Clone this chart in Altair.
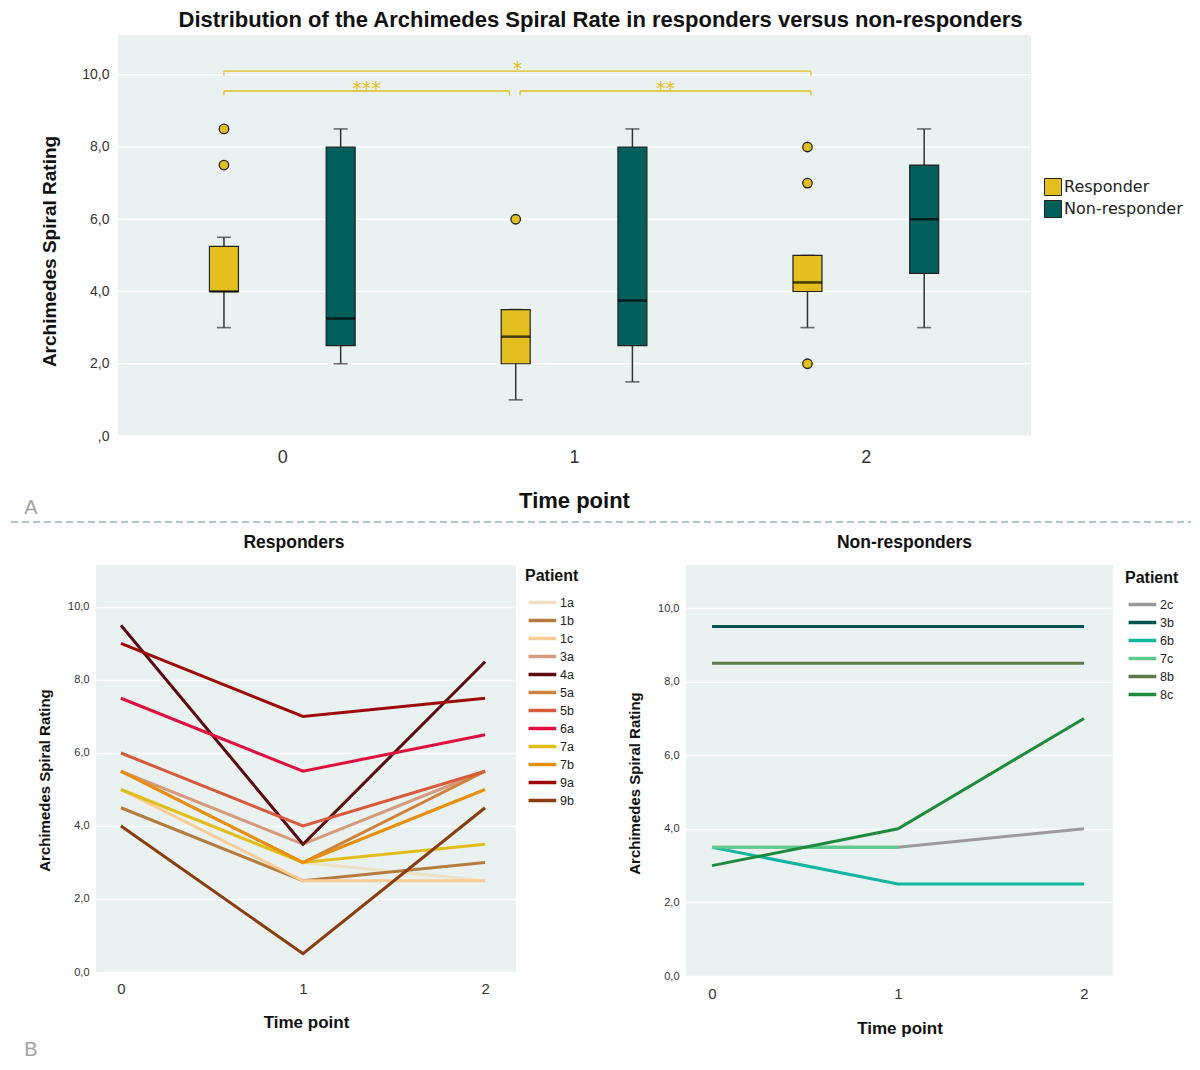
import altair as alt
import pandas as pd

FONT = "Liberation Sans"
YELLOW = "#E2BE1E"
TEAL = "#005E5B"
BG = "#EAF1F1"
INK = "#222222"

# ---------------- Panel A: box plot summary values ----------------
time_points = [0, 1, 2]
group_names = ["Responder", "Non-responder"]

resp_low = [3.0, 1.0, 3.0]
resp_q1 = [4.0, 2.0, 4.0]
resp_med = [4.0, 2.75, 4.25]
resp_q3 = [5.25, 3.5, 5.0]
resp_high = [5.5, 3.5, 5.0]
resp_outliers = [[7.5, 8.5], [6.0], [2.0, 7.0, 8.0]]

non_low = [2.0, 1.5, 3.0]
non_q1 = [2.5, 2.5, 4.5]
non_med = [3.25, 3.75, 6.0]
non_q3 = [8.0, 8.0, 7.5]
non_high = [8.5, 8.5, 8.5]

# significance brackets (between responder boxes)
sig_labels = ["*", "***", "**"]
sig_from = [0, 0, 1]
sig_to = [2, 1, 2]
sig_level = [10.1, 9.55, 9.55]

y_ticks = [0, 2, 4, 6, 8, 10]

# ---------------- Panel B: individual patients ----------------
resp_patients = ["1a", "1b", "1c", "3a", "4a", "5a", "5b", "6a", "7a", "7b", "9a", "9b"]
resp_colors = ["#EEE2C6", "#B57C3E", "#F9CB95", "#D69A7C", "#5A0A10", "#D08038",
               "#D85A3C", "#E0103E", "#E2BE1A", "#E8900E", "#9E0A0C", "#8A3C0C"]
resp_t0 = [5.0, 4.5, 5.0, 5.5, 9.5, 5.5, 6.0, 7.5, 5.0, 5.5, 9.0, 4.0]
resp_t1 = [3.0, 2.5, 2.5, 3.5, 3.5, 3.0, 4.0, 5.5, 3.0, 3.0, 7.0, 0.5]
resp_t2 = [2.5, 3.0, 2.5, 5.5, 8.5, 5.5, 5.5, 6.5, 3.5, 5.0, 7.5, 4.5]

non_patients = ["2c", "3b", "6b", "7c", "8b", "8c"]
non_colors = ["#9A9A9A", "#00534F", "#12B5A0", "#5CCB8C", "#5E7A4C", "#1E8A3C"]
non_t0 = [3.5, 9.5, 3.5, 3.5, 8.5, 3.0]
non_t1 = [3.5, 9.5, 2.5, 3.5, 8.5, 4.0]
non_t2 = [4.0, 9.5, 2.5, None, 8.5, 7.0]

# ---------------- build tables ----------------
offset = {"Responder": -0.2, "Non-responder": 0.2}
rows = []
for g, lo, q1, md, q3, hi in [
    ("Responder", resp_low, resp_q1, resp_med, resp_q3, resp_high),
    ("Non-responder", non_low, non_q1, non_med, non_q3, non_high),
]:
    for i, t in enumerate(time_points):
        rows.append(dict(group=g, time=t, pos=t + offset[g], low=lo[i], q1=q1[i],
                         med=md[i], q3=q3[i], high=hi[i]))
box_df = pd.DataFrame(rows)

out_rows = []
for i, t in enumerate(time_points):
    for v in resp_outliers[i]:
        out_rows.append(dict(pos=t + offset["Responder"], value=v))
out_df = pd.DataFrame(out_rows)

br_rows = []
for lab, a, b, lev in zip(sig_labels, sig_from, sig_to, sig_level):
    x1 = a + offset["Responder"] + (0.015 if lab == "**" else 0.0)
    x2 = b + offset["Responder"] + (-0.022 if lab == "***" else 0.012)
    br_rows.append(dict(label=lab, x1=x1, x2=x2, xm=(x1 + x2) / 2, level=lev, drop=lev - 0.12))
br_df = pd.DataFrame(br_rows)
br_ends = pd.concat([
    br_df[["x1", "level", "drop"]].rename(columns={"x1": "x"}),
    br_df[["x2", "level", "drop"]].rename(columns={"x2": "x"}),
])

grid_df = pd.DataFrame({"v": y_ticks})

def long_table(patients, t0, t1, t2):
    r = []
    for k, p in enumerate(patients):
        for t, vals in zip(time_points, (t0, t1, t2)):
            if vals[k] is not None:
                r.append(dict(patient=p, time=t, value=vals[k], order=k))
    return pd.DataFrame(r)

resp_df = long_table(resp_patients, resp_t0, resp_t1, resp_t2)
non_df = long_table(non_patients, non_t0, non_t1, non_t2)

one = pd.DataFrame({"k": [0]})

# ---------------- Panel A chart ----------------
# the group spans 22px left of the shaded plot area so that it lines up with panel B
SHIFT = 22
W_A, H_A = 913 + SHIFT, 401
xscaleA = alt.Scale(domain=[-0.546, 2.549], range=[SHIFT, W_A], nice=False, zero=False)
yscaleA = alt.Scale(domain=[0, 11.1], nice=False, zero=False)
xaxisA = alt.Axis(values=[0, 1, 2], format="d", title="Time point", grid=False, ticks=False,
                  domain=False, labelFontSize=18, labelPadding=12, labelColor="#333",
                  titleFontSize=22, titleFontWeight="bold", titleY=64, titleX=478,
                  titleAlign="center", titleBaseline="middle", titleColor="#111")
yaxisA = alt.Axis(values=y_ticks, title="Archimedes Spiral Rating",
                  labelExpr="datum.value == 0 ? ',0' : replace(format(datum.value, '.1f'), '.', ',')",
                  ticks=False, domain=False, labelFontSize=14, labelPadding=9, labelColor="#333",
                  titleFontSize=19, titleFontWeight="bold", titleX=-69, titleY=216,
                  titleBaseline="middle", titleAlign="center", titleColor="#111",
                  grid=False, offset=-SHIFT)

def XA(f):
    return alt.X(f, type="quantitative", scale=xscaleA, axis=xaxisA)

def YA(f):
    return alt.Y(f, type="quantitative", scale=yscaleA, axis=yaxisA)

background = alt.Chart(one).mark_rect(color=BG).encode(
    x=alt.value(SHIFT), x2=alt.value(W_A), y=alt.value(0), y2=alt.value(H_A))
gridlines = alt.Chart(grid_df).mark_rule(color="white", strokeWidth=1.5).encode(
    x=alt.value(SHIFT), x2=alt.value(W_A), y=YA("v"))

base_box = alt.Chart(box_df)
whisk_lo = base_box.mark_rule(color="#333", strokeWidth=1.5).encode(x=XA("pos"), y=YA("low"), y2="q1")
whisk_hi = base_box.mark_rule(color="#333", strokeWidth=1.5).encode(x=XA("pos"), y=YA("q3"), y2="high")
cap_lo = base_box.mark_tick(orient="horizontal", size=14, thickness=1.6, color="#333").encode(x=XA("pos"), y=YA("low"))
cap_hi = base_box.mark_tick(orient="horizontal", size=14, thickness=1.6, color="#333").encode(x=XA("pos"), y=YA("high"))
boxes = base_box.mark_bar(size=29, stroke=INK, strokeWidth=1.2).encode(
    x=XA("pos"), y=YA("q1"), y2="q3",
    color=alt.Color("group:N", scale=alt.Scale(domain=group_names, range=[YELLOW, TEAL]),
                    legend=alt.Legend(title=None, orient="none", legendX=926 + SHIFT, legendY=143,
                                      symbolType="square", symbolSize=289, symbolStrokeColor=INK,
                                      symbolStrokeWidth=1, symbolOpacity=1, labelFontSize=16,
                                      labelFont="DejaVu Sans",
                                      labelColor="#222", rowPadding=0, labelOffset=2)),
)
medians = base_box.mark_tick(orient="horizontal", size=29, thickness=2.5, color="#000").encode(
    x=XA("pos"), y=YA("med"))
outliers = alt.Chart(out_df).mark_circle(size=90, color=YELLOW, stroke=INK, strokeWidth=1.3, opacity=1).encode(
    x=XA("pos"), y=YA("value"))

br_lines = alt.Chart(br_df).mark_rule(color=YELLOW, strokeWidth=1.3).encode(
    x=XA("x1"), x2="x2", y=YA("level"))
br_ticks = alt.Chart(br_ends).mark_rule(color=YELLOW, strokeWidth=1.3).encode(
    x=XA("x"), y=YA("level"), y2="drop")
br_text = alt.Chart(br_df).mark_text(color=YELLOW, fontSize=19, font="DejaVu Sans",
                                     baseline="alphabetic", dy=4).encode(
    x=XA("xm"), y=YA("level"), text="label:N")

separator = alt.Chart(one).mark_rule(color="#5E8E8C", strokeWidth=1.2, strokeDash=[7, 4]).encode(
    x=alt.value(-85), x2=alt.value(1095), y=alt.value(487))
label_a = alt.Chart(one).mark_text(text="A", fontSize=20, color="#A3A3A3", font=FONT).encode(
    x=alt.value(-65), y=alt.value(473))

top = alt.layer(
    background, gridlines, whisk_lo, whisk_hi, cap_lo, cap_hi, boxes, medians, outliers,
    br_lines, br_ticks, br_text, separator, label_a,
).properties(
    width=W_A, height=H_A,
    view=alt.ViewBackground(fill="white", strokeWidth=0),
    title=alt.TitleParams("Distribution of the Archimedes Spiral Rate in responders versus non-responders",
                          fontSize=22, fontWeight="bold", anchor="middle", dx=37, offset=3, color="#111"),
)

# ---------------- Panel B charts ----------------
def line_panel(df, patients, colors, title, width, height, xdom, ytop, legx, legy, ytitle_y,
               lab_pad, xt_y, title_dx, extra_layers):
    xs = alt.Scale(domain=xdom, nice=False, zero=False)
    ys = alt.Scale(domain=[0, ytop], nice=False, zero=False)
    xax = alt.Axis(values=[0, 1, 2], format="d", title="Time point", grid=False, ticks=False,
                   domain=False, labelFontSize=15, labelPadding=lab_pad, labelColor="#333",
                   titleFontSize=17, titleFontWeight="bold", titleY=xt_y, titleBaseline="middle",
                   titleColor="#111")
    yax = alt.Axis(values=y_ticks, title="Archimedes Spiral Rating",
                   labelExpr="replace(format(datum.value, '.1f'), '.', ',')",
                   ticks=False, domain=False, labelFontSize=11, labelPadding=7, labelColor="#333",
                   titleFontSize=15, titleFontWeight="bold", titleX=-52, titleY=ytitle_y,
                   titleBaseline="middle", titleAlign="center", titleColor="#111",
                   grid=True, gridColor="white", gridWidth=1.5)
    lines = alt.Chart(df).mark_line(strokeWidth=3).encode(
        x=alt.X("time:Q", scale=xs, axis=xax),
        y=alt.Y("value:Q", scale=ys, axis=yax),
        color=alt.Color("patient:N", scale=alt.Scale(domain=patients, range=colors),
                        sort=patients,
                        legend=alt.Legend(title="Patient", orient="none", legendX=legx, legendY=legy,
                                          titleFontSize=16, titleFontWeight="bold", titleColor="#111",
                                          titlePadding=8, labelFontSize=12.5, labelColor="#222",
                                          symbolType="M-0.8,0L2.4,0", symbolSize=300,
                                          symbolStrokeWidth=3.5, rowPadding=0, labelOffset=14)),
        order=alt.Order("order:Q"),
    )
    return alt.layer(lines, *extra_layers).properties(
        width=width, height=height,
        view=alt.ViewBackground(fill=BG, strokeWidth=0),
        title=alt.TitleParams(title, fontSize=17.5, fontWeight="bold", anchor="middle", dx=title_dx,
                              offset=14, color="#111"),
    )

left_bound = alt.Chart(one).mark_rule(strokeOpacity=0, strokeWidth=1).encode(
    x=alt.value(-85), x2=alt.value(-80), y=alt.value(200))
label_b = alt.Chart(one).mark_text(text="B", fontSize=20, color="#A3A3A3", font=FONT).encode(
    x=alt.value(-65), y=alt.value(485))

left = line_panel(resp_df, resp_patients, resp_colors, "Responders", 420, 407,
                  [-0.137, 2.17], 11.15, 429, 3, 215, 9, 50, -12, [left_bound, label_b])
right = line_panel(non_df, non_patients, non_colors, "Non-responders", 427, 411,
                   [-0.14, 2.156], 11.17, 439, 5, 218, 10, 52, 5, [])

bottom = alt.hconcat(left, right, spacing=48).resolve_scale(color="independent")

chart = alt.vconcat(top, bottom, spacing=10).resolve_scale(
    color="independent"
).properties(
    padding={"left": 2, "top": 1, "right": 0, "bottom": 0}
).configure(font=FONT).configure_view(strokeWidth=0)

chart.save("out.html", embed_options={"renderer": "svg", "actions": False})
